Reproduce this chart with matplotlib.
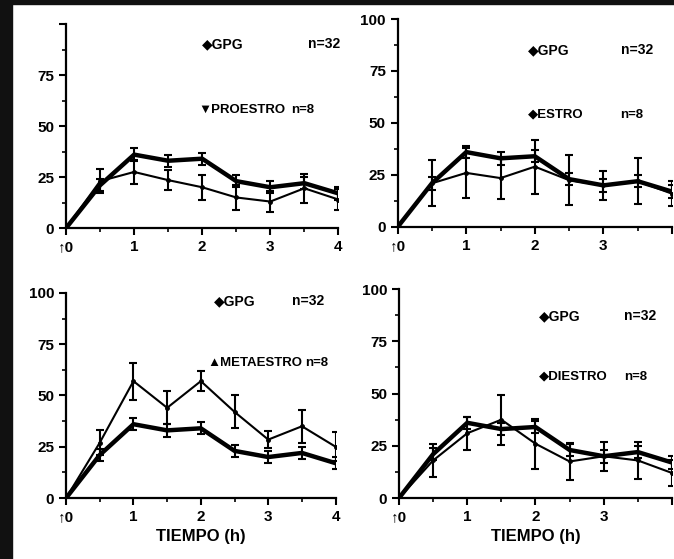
import matplotlib
matplotlib.use("Agg")
import matplotlib.pyplot as plt
import numpy as np

# ---------------- data ----------------
tiempo = [0, 0.5, 1, 1.5, 2, 2.5, 3, 3.5, 4]
gpg = [0, 21, 36, 33, 34, 23, 20, 22, 17]
gpg_err = [0, 3, 3, 3, 3, 3, 3, 3, 3]

proestro = [0, 23, 27.5, 23.5, 20, 15, 13, 19.5, 14]
proestro_err = [0, 6, 6, 5, 6, 6, 5, 7, 5]

estro = [0, 21, 26, 23.5, 29, 22.5, 20, 22, 16]
estro_err = [0, 11, 12, 10, 13, 12, 7, 11, 6]

metaestro = [0, 27, 57, 44, 57, 42, 28.5, 35, 25]
metaestro_err = [0, 6, 9, 8, 5, 8, 4, 8, 7]

diestro = [0, 18, 31, 37.5, 26, 17.5, 20, 18, 12]
diestro_err = [0, 8, 8, 12, 12, 9, 7, 9, 6]

yticks = [0, 25, 50, 75, 100]
xticks = [0, 1, 2, 3, 4]
xticklabels = ["\u21910", "1", "2", "3", "4"]

FAM = ["Liberation Sans Narrow", "Liberation Sans", "DejaVu Sans"]
plt.rcParams["font.family"] = FAM

fig = plt.figure(figsize=(6.74, 5.59), dpi=100)

# scan-like dark border on left and top
fig.patches.append(plt.Rectangle((0, 0), 0.018, 1, transform=fig.transFigure,
                                 color="#111111", zorder=0))
fig.patches.append(plt.Rectangle((0, 0.992), 1, 0.008, transform=fig.transFigure,
                                 color="#111111", zorder=0))

panels = [
    dict(rect=[0.098, 0.592, 0.404, 0.365], phase=proestro, perr=proestro_err,
         name="\u25bcPROESTRO", n="n=8", show100=False, show4=True,
         leg=[(2.0, 90, 3.55, 90), (1.95, 58, 3.3, 58)], xlabel=False),
    dict(rect=[0.590, 0.594, 0.407, 0.372], phase=estro, perr=estro_err,
         name="\u25c6ESTRO", n="n=8", show100=True, show4=False,
         leg=[(1.9, 85, 3.25, 85), (1.9, 54, 3.25, 54)], xlabel=False),
    dict(rect=[0.098, 0.109, 0.400, 0.367], phase=metaestro, perr=metaestro_err,
         name="\u25b2METAESTRO", n="n=8", show100=True, show4=True,
         leg=[(2.2, 96, 3.35, 96), (2.1, 66, 3.55, 66)], xlabel=True),
    dict(rect=[0.592, 0.109, 0.405, 0.374], phase=diestro, perr=diestro_err,
         name="\u25c6DIESTRO", n="n=8", show100=True, show4=False,
         leg=[(2.05, 87, 3.3, 87), (2.05, 58, 3.3, 58)], xlabel=True),
]

for p in panels:
    ax = fig.add_axes(p["rect"])
    ax.set_xlim(0, 4)
    ax.set_ylim(0, 100)
    for s in ["top", "right"]:
        ax.spines[s].set_visible(False)
    ax.spines["left"].set_linewidth(1.6)
    ax.spines["bottom"].set_linewidth(1.6)
    ax.set_yticks(yticks)
    ylabels = [str(v) for v in yticks]
    if not p["show100"]:
        ylabels[-1] = ""
    ax.set_yticklabels(ylabels)
    ax.set_yticks([12.5, 37.5, 62.5, 87.5], minor=True)
    ax.set_xticks(xticks)
    xl = list(xticklabels)
    if not p["show4"]:
        xl[-1] = ""
    ax.set_xticklabels(xl)
    ax.set_xticks([0.5, 1.5, 2.5, 3.5], minor=True)
    ax.tick_params(axis="both", which="major", labelsize=11, width=1.5, length=5)
    ax.tick_params(axis="both", which="minor", width=1.2, length=3)
    for lab in ax.get_xticklabels() + ax.get_yticklabels():
        lab.set_fontweight("bold")

    # GPG (thick)
    ax.errorbar(tiempo, gpg, yerr=gpg_err, color="black", lw=3.2,
                elinewidth=1.5, capsize=3, capthick=1.5, zorder=3)
    # phase (thin)
    ax.errorbar(tiempo, p["phase"], yerr=p["perr"], color="black", lw=1.5,
                elinewidth=1.5, capsize=3, capthick=1.5, zorder=3,
                marker="o", ms=2.5)

    (gx, gy, nx, ny), (px, py, qx, qy) = p["leg"]
    ax.text(gx, gy, "\u25c6GPG", fontsize=10, fontweight="bold", va="center",
            family=FAM)
    ax.text(nx, gy, "n=32", fontsize=10, fontweight="bold", va="center",
            family=FAM)
    ax.text(px, py, p["name"], fontsize=9.5, fontweight="bold", va="center",
            family=FAM)
    ax.text(qx, qy, p["n"], fontsize=9.5, fontweight="bold", va="center",
            family=FAM)
    if p["xlabel"]:
        ax.set_xlabel("TIEMPO (h)", fontsize=12, fontweight="bold", labelpad=4)

fig.savefig("out.png", dpi=100)
